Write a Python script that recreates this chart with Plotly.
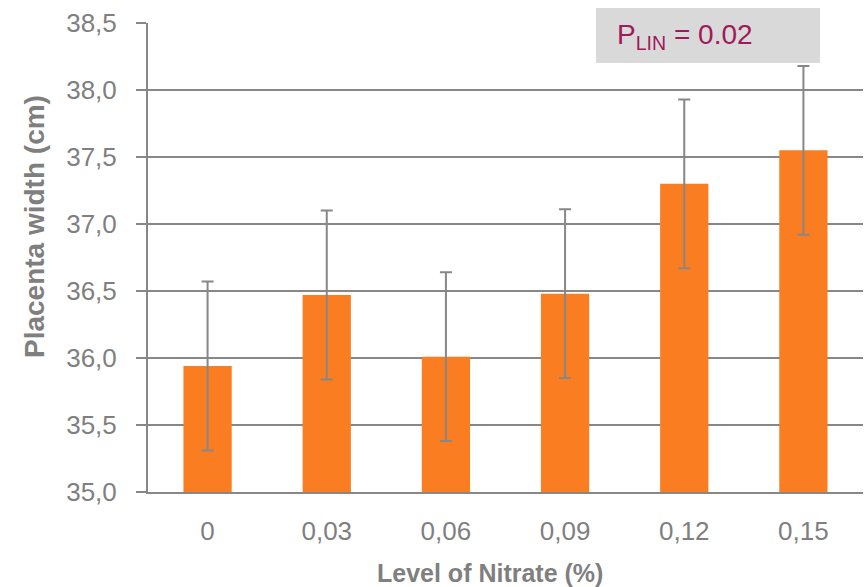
import plotly.graph_objects as go

categories = ["0", "0,03", "0,06", "0,09", "0,12", "0,15"]
values = [35.94, 36.47, 36.01, 36.48, 37.30, 37.55]
errors = [0.63, 0.63, 0.63, 0.63, 0.63, 0.63]
y_ticks = [35.0, 35.5, 36.0, 36.5, 37.0, 37.5, 38.0, 38.5]
y_tick_labels = ["35,0", "35,5", "36,0", "36,5", "37,0", "37,5", "38,0", "38,5"]
x_title = "Level of Nitrate (%)"
y_title = "Placenta width (cm)"
p_label = "P<sub>LIN</sub> = 0.02"

grey = "#878787"
text_grey = "#7F7F7F"
font_family = "Liberation Sans, Arial, sans-serif"

L, R, T, B = 148, 2, 23, 95
W, H = 865, 587
pw, ph = W - L - R, H - T - B

def px_x(x):
    return (x - L) / pw

def px_y(y):
    return (H - B - y) / ph

fig = go.Figure()
fig.add_trace(go.Bar(
    x=categories, y=values, base=0,
    marker=dict(color="#FA7D22", line=dict(width=0)),
    width=0.405,
    error_y=dict(type="data", array=errors, visible=True, color=grey, thickness=2, width=6),
))
fig.update_layout(
    width=W, height=H,
    margin=dict(l=L, r=R, t=T, b=B, autoexpand=False),
    plot_bgcolor="white", paper_bgcolor="white",
    font=dict(family=font_family, color=text_grey, size=16),
    showlegend=False,
    xaxis=dict(
        type="category", showgrid=False, showline=True, linecolor=grey, linewidth=2,
        ticks="", tickfont=dict(family=font_family, size=26, color=text_grey),
        ticklabelstandoff=15,
    ),
    yaxis=dict(
        range=[35.0, 38.5], tickvals=y_ticks, ticktext=y_tick_labels,
        showgrid=True, gridcolor=grey, gridwidth=2,
        showline=True, linecolor=grey, linewidth=2,
        ticks="outside", ticklen=10, tickcolor=grey, tickwidth=2,
        tickfont=dict(family=font_family, size=26, color=text_grey),
        ticklabelstandoff=14,
        zeroline=False,
    ),
)
fig.add_annotation(xref="paper", yref="paper", x=px_x(490), y=px_y(573),
                   xanchor="center", yanchor="middle", showarrow=False,
                   text="<b>" + x_title + "</b>",
                   font=dict(family=font_family, size=25, color=text_grey))
fig.add_annotation(xref="paper", yref="paper", x=px_x(34), y=px_y(227),
                   xanchor="center", yanchor="middle", showarrow=False, textangle=-90,
                   text="<b>" + y_title + "</b>",
                   font=dict(family=font_family, size=28, color=text_grey))
fig.add_shape(type="rect", xref="paper", yref="paper",
              x0=px_x(596), x1=px_x(820), y0=px_y(63), y1=px_y(8),
              fillcolor="#D9D9D9", line=dict(width=0), layer="above")
fig.add_annotation(xref="paper", yref="paper", x=px_x(615), y=px_y(37),
                   xanchor="left", yanchor="middle", showarrow=False,
                   text=p_label,
                   font=dict(family=font_family, size=28, color="#A0195A"))
fig.write_html("out.html", config={"displayModeBar": False},
               post_script="document.body.style.margin='0';document.body.style.overflow='hidden';")
